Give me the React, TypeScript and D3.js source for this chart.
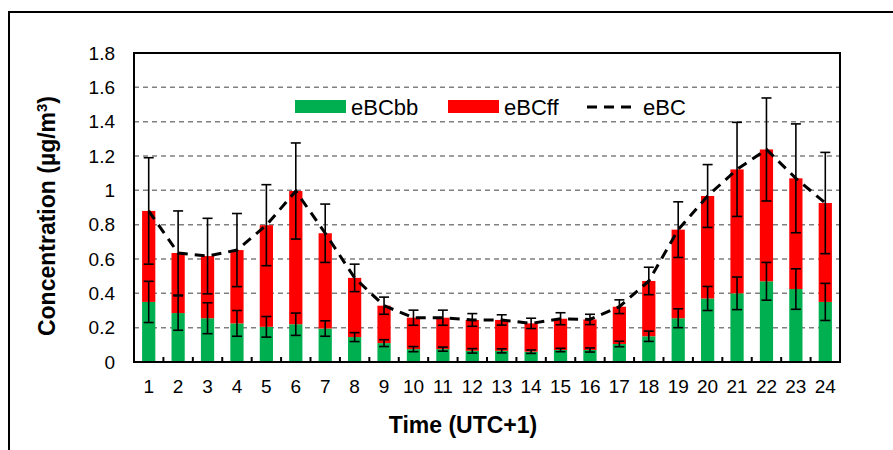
import React from "react";
import * as d3 from "d3";

// hourly mean values
const hours = d3.range(1, 25).map(String);
const eBCbb = [0.35, 0.285, 0.255, 0.225, 0.205, 0.22, 0.195, 0.145, 0.11, 0.075, 0.075, 0.065, 0.065, 0.06, 0.07, 0.07, 0.105, 0.15, 0.255, 0.37, 0.4, 0.47, 0.425, 0.35];
const eBCff = [0.53, 0.35, 0.362, 0.427, 0.592, 0.776, 0.555, 0.345, 0.218, 0.183, 0.183, 0.18, 0.18, 0.165, 0.182, 0.178, 0.217, 0.322, 0.516, 0.597, 0.722, 0.768, 0.645, 0.576];
const eBC = [0.88, 0.635, 0.617, 0.652, 0.797, 0.996, 0.75, 0.49, 0.328, 0.258, 0.258, 0.245, 0.245, 0.225, 0.252, 0.248, 0.322, 0.472, 0.771, 0.967, 1.122, 1.238, 1.07, 0.926];
const eBCbbErr = [0.12, 0.1, 0.09, 0.075, 0.06, 0.065, 0.045, 0.026, 0.02, 0.015, 0.012, 0.013, 0.012, 0.01, 0.01, 0.012, 0.016, 0.03, 0.055, 0.07, 0.095, 0.11, 0.118, 0.108];
const eBCErr = [0.31, 0.245, 0.22, 0.213, 0.236, 0.28, 0.17, 0.08, 0.05, 0.044, 0.044, 0.037, 0.03, 0.03, 0.035, 0.03, 0.04, 0.08, 0.162, 0.183, 0.274, 0.3, 0.317, 0.295];
const yTicks = [0, 0.2, 0.4, 0.6, 0.8, 1, 1.2, 1.4, 1.6, 1.8];

const W = 893, H = 450;
const m = { left: 134, right: 840, top: 53, bottom: 362 };
const GREEN = "#00b050", RED = "#ff0000";
const font = "'Liberation Sans', Arial, sans-serif";

export default function App() {
  const x = d3.scaleBand().domain(hours).range([m.left, m.right]).paddingInner(0.55).paddingOuter(0.275);
  const y = d3.scaleLinear().domain([0, 1.8]).range([m.bottom, m.top]);
  const cx = (h: string) => (x(h) as number) + x.bandwidth() / 2;
  const step = (m.right - m.left) / hours.length;

  const line = d3.line<number>()
    .x((_, i) => cx(hours[i]))
    .y(d => y(d));

  const errBar = (key: string, xc: number, v: number, e: number) => {
    const cap = 5;
    return (
      <g key={key} stroke="#000" strokeWidth={1.6}>
        <line x1={xc} x2={xc} y1={y(v + e)} y2={y(v - e)} />
        <line x1={xc - cap} x2={xc + cap} y1={y(v + e)} y2={y(v + e)} />
        <line x1={xc - cap} x2={xc + cap} y1={y(v - e)} y2={y(v - e)} />
      </g>
    );
  };

  return (
    <svg width={W} height={H} style={{ position: "absolute", left: 0, top: 0, background: "#fff" }} fontFamily={font}>
      {/* outer frame */}
      <path d={`M9,${H} V12 H${W}`} fill="none" stroke="#000" strokeWidth={2} />

      {/* gridlines */}
      {yTicks.filter(t => t > 0 && t < 1.8).map(t => (
        <line key={t} x1={m.left} x2={m.right} y1={y(t)} y2={y(t)} stroke="#808080" strokeWidth={1.5} strokeDasharray="5,4" />
      ))}

      {/* stacked bars */}
      {hours.map((h, i) => (
        <g key={h}>
          <rect x={x(h)} width={x.bandwidth()} y={y(eBCbb[i])} height={y(0) - y(eBCbb[i])} fill={GREEN} />
          <rect x={x(h)} width={x.bandwidth()} y={y(eBCbb[i] + eBCff[i])} height={y(eBCbb[i]) - y(eBCbb[i] + eBCff[i])} fill={RED} />
        </g>
      ))}

      {/* error bars */}
      {hours.map((h, i) => errBar("t" + h, cx(h), eBCbb[i] + eBCff[i], eBCErr[i]))}
      {hours.map((h, i) => errBar("b" + h, cx(h), eBCbb[i], eBCbbErr[i]))}

      {/* eBC dashed line */}
      <path d={line(eBC) || ""} fill="none" stroke="#000" strokeWidth={3} strokeDasharray="10,7" />

      {/* plot border */}
      <rect x={m.left} y={m.top} width={m.right - m.left} height={m.bottom - m.top} fill="none" stroke="#000" strokeWidth={2} />

      {/* x ticks (inside) */}
      {d3.range(1, hours.length).map(i => (
        <line key={i} x1={m.left + i * step} x2={m.left + i * step} y1={m.bottom} y2={m.bottom - 5} stroke="#000" strokeWidth={2} />
      ))}

      {/* y tick labels */}
      {yTicks.map(t => (
        <text key={t} x={115} y={y(t)} dy="0.35em" textAnchor="end" fontSize={19} fill="#000">{t}</text>
      ))}

      {/* x tick labels */}
      {hours.map(h => (
        <text key={h} x={cx(h)} y={393} textAnchor="middle" fontSize={19} fill="#000">{h}</text>
      ))}

      {/* axis titles */}
      <text x={463} y={433} textAnchor="middle" fontSize={23} fontWeight="bold" fill="#000">Time (UTC+1)</text>
      <text transform="translate(55,216) rotate(-90)" textAnchor="middle" fontSize={23} fontWeight="bold" fill="#000">
        Concentration (µg/m<tspan dy={-8} fontSize={15}>3</tspan><tspan dy={8}>)</tspan>
      </text>

      {/* legend */}
      <rect x={295} y={100} width={51} height={13} fill={GREEN} />
      <text x={351} y={114.5} fontSize={22} fill="#000">eBCbb</text>
      <rect x={448} y={100} width={51} height={13} fill={RED} />
      <text x={504} y={114.5} fontSize={22} fill="#000">eBCff</text>
      <line x1={587} x2={638} y1={107} y2={107} stroke="#000" strokeWidth={3} strokeDasharray="10,7" />
      <text x={643} y={114.5} fontSize={22} fill="#000">eBC</text>
    </svg>
  );
}
